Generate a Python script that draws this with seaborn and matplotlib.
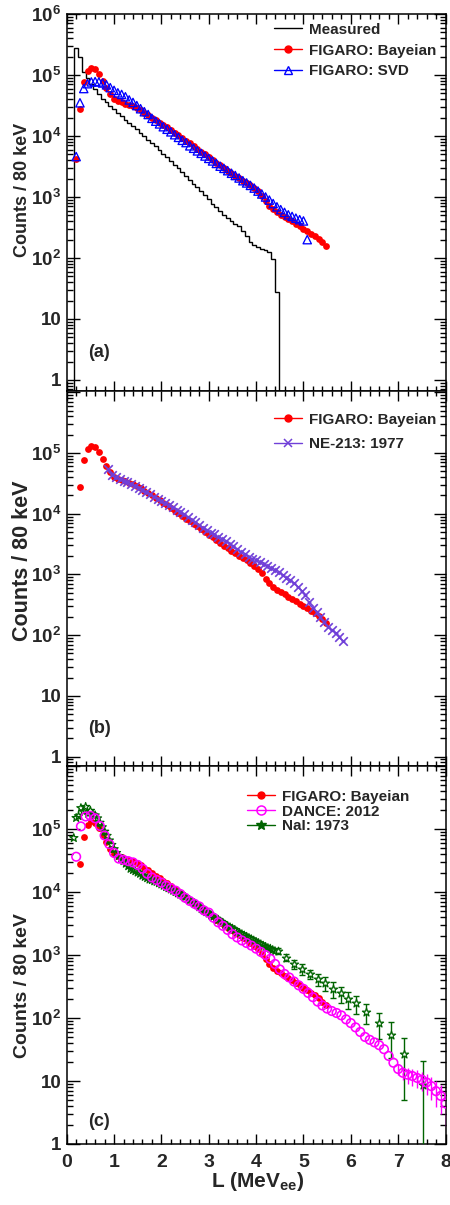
import numpy as np
import matplotlib
matplotlib.use("Agg")
import matplotlib.pyplot as plt
from matplotlib.lines import Line2D
from matplotlib.ticker import (FixedLocator, MultipleLocator, LogLocator,
                               FuncFormatter, NullFormatter)
import seaborn as sns

# ---------------------------------------------------------------- data
BIN_W = 0.08  # MeVee, 80 keV bins

# measured light-output spectrum, bins 0.16 ... 4.48 MeVee
meas_edge0 = 0.16
meas_counts = [282000, 195000, 112000, 89000, 72000, 59000, 49000, 41000, 35500, 31000,
               27500, 24000, 21400, 18600, 16600, 14500, 12900, 11200, 10000, 8700,
               7800, 6800, 5900, 5100, 4500, 3900, 3400, 2950, 2600, 2240,
               1900, 1660, 1450, 1260, 1070, 930, 780, 680, 590, 500,
               450, 400, 360, 330, 280, 230, 186, 166, 151, 141,
               135, 126, 95, 28]

# FIGARO unfolded, Bayesian (bin centres from 0.20 MeVee)
bay_start = 0.20
bay_counts = [4200, 27500, 76000, 117000, 132000, 126000, 105000, 81000, 62000, 48000,
              40000, 37000, 35500, 34000, 32500, 31000, 29000, 26500, 24000, 22000,
              20000, 18200, 16600, 15100, 13800, 12600, 11200, 10200, 9300, 8300,
              7600, 6800, 6200, 5500, 5000, 4500, 4100, 3650, 3300, 2950,
              2700, 2450, 2250, 2050, 1850, 1700, 1550, 1400, 1250, 1050,
              850, 720, 630, 560, 510, 470, 430, 400, 365, 330,
              300, 275, 250, 230, 205, 182, 160]

# FIGARO unfolded, SVD (bin centres from 0.20 MeVee)
svd_start = 0.20
svd_counts = [4600, 35000, 60000, 72000, 77000, 78000, 77000, 74000, 69000, 62000,
              56000, 51000, 48000, 44000, 39000, 35500, 31500, 28000, 25000, 22500,
              19500, 17500, 15800, 14200, 12900, 11700, 10500, 9500, 8500, 7800,
              6900, 6300, 5700, 5200, 4700, 4300, 3900, 3550, 3200, 2950,
              2700, 2450, 2250, 2050, 1850, 1700, 1550, 1400, 1250, 1120,
              1000, 890, 780, 690, 620, 560, 510, 480, 450, 425,
              405, 200]

# NE-213 (1977), bin centres from 0.88 MeVee
ne_start = 0.88
ne_counts = [53700, 43600, 39800, 37200, 34700, 33100, 30900, 28800, 26300, 24500,
             22900, 20900, 19100, 17400, 16200, 15100, 13800, 12900, 11700, 10700,
             9800, 8700, 7900, 7200, 6500, 5900, 5400, 4900, 4600, 4200,
             3900, 3550, 3200, 2950, 2630, 2340, 2140, 1950, 1820, 1700,
             1580, 1480, 1380, 1290, 1200, 1100, 980, 890, 810, 720,
             630, 540, 450, 355, 280, 240, 200, 166, 138, 120,
             107, 93, 81]

# DANCE (2012), 0.1 MeVee steps from 0.2 MeVee
dance_start, dance_step = 0.2, 0.1
dance_counts = [36300, 110000, 158000, 162000, 148000, 112000, 79000, 57500, 41700, 33900,
                32400, 30900, 29500, 26900, 23400, 19500, 17000, 15500, 14100, 12600,
                11500, 10500, 9300, 8100, 7200, 6500, 5900, 5100, 4700, 3900,
                3300, 2900, 2500, 2140, 1900, 1700, 1550, 1410, 1260, 1120,
                1000, 870, 720, 590, 500, 440, 380, 330, 290, 250,
                214, 182, 158, 141, 129, 120, 110, 95, 83, 71,
                60, 50, 45, 41, 37, 32, 25, 19.5, 15.5, 13.5,
                12.6, 12.0, 11.2, 10.5, 9.5, 8.3, 6.9, 5.8, 4.4]
# DANCE uncertainties of the last points (7.0 ... 8.0 MeVee)
dance_tail_err = [3.0, 3.0, 3.6, 3.6, 3.5, 3.5, 3.4, 3.3, 3.0, 2.8, 2.5]

# NaI (1973): fine-binned part 0.15 ... 4.40 MeVee in 0.05 steps
nai_start, nai_step = 0.15, 0.05
nai_counts = [72000, 150000, 160000, 215000, 190000, 225000, 175000, 195000, 170000, 165000,
              148000, 126000, 107000, 91000, 78000, 66000, 56000, 48000, 41700, 37200,
              33900, 30900, 28200, 25700, 23400, 22400, 21400, 20400, 19500, 18200,
              17400, 16600, 15800, 15500, 14800, 14500, 13800, 13200, 12600, 12000,
              11500, 11000, 10500, 10000, 9550, 9120, 8710, 8320, 7760, 7410,
              6920, 6610, 6170, 5750, 5370, 5130, 4790, 4570, 4270, 4070,
              3800, 3630, 3390, 3240, 3020, 2880, 2750, 2630, 2510, 2340,
              2240, 2140, 2040, 1950, 1860, 1780, 1700, 1620, 1550, 1480,
              1410, 1350, 1290, 1260, 1200, 1150]
# NaI (1973): high-energy tail with uncertainties
nai_tail_L = [4.47, 4.64, 4.80, 4.97, 5.14, 5.30, 5.46, 5.62, 5.79, 5.95,
              6.12, 6.33, 6.60, 6.84, 7.12, 7.53]
nai_tail_counts = [1175, 910, 710, 600, 500, 410, 355, 290, 245, 200,
                   170, 123, 83, 54, 27, 8.5]
nai_tail_err = [120, 110, 110, 110, 85, 85, 90, 80, 70, 60,
                53, 42, 36, 31, 22, 12.5]

x_ticks = [0, 1, 2, 3, 4, 5, 6, 7, 8]

# ---------------------------------------------------------------- style
sns.set_style("ticks")
plt.rcParams["font.family"] = ["Liberation Sans", "DejaVu Sans"]
plt.rcParams["font.weight"] = "bold"
plt.rcParams["mathtext.fontset"] = "custom"
plt.rcParams["mathtext.rm"] = "Liberation Sans:bold"
plt.rcParams["mathtext.bf"] = "Liberation Sans:bold"
plt.rcParams["mathtext.it"] = "Liberation Sans:bold"

RED, BLUE, VIOLET, MAGENTA, GREEN = "#ff0000", "#0000ff", "#7040d8", "#ff00ff", "#006400"


def centres(start, step, n):
    return np.round(start + step * np.arange(n), 3)


bay_L = centres(bay_start, BIN_W, len(bay_counts))
svd_L = centres(svd_start, BIN_W, len(svd_counts))
ne_L = centres(ne_start, BIN_W, len(ne_counts))
dance_L = centres(dance_start, dance_step, len(dance_counts))
nai_L = centres(nai_start, nai_step, len(nai_counts))
meas_edges = np.round(meas_edge0 + BIN_W * np.arange(len(meas_counts) + 1), 3)
n_dt = len(dance_tail_err)

# ---------------------------------------------------------------- figure
W, H = 450.0, 1205.0
fig = plt.figure(figsize=(W / 100, H / 100), dpi=100)
X0, X1 = 66.7, 445.5


def frame(top, bottom):
    return [X0 / W, 1 - bottom / H, (X1 - X0) / W, (bottom - top) / H]


ax_a = fig.add_axes(frame(14, 391))
ax_b = fig.add_axes(frame(391, 766))
ax_c = fig.add_axes(frame(766, 1144))


def decade_label(v, max_exp):
    e = int(round(np.log10(v)))
    if e > max_exp:
        return ""
    if e == 0:
        return "1"
    if e == 1:
        return "10"
    return r"$\mathbf{10^{%d}}$" % e


def style_axis(ax, ylim, max_exp, show_x):
    ax.set_yscale("log", nonpositive="clip")
    ax.set_xlim(0, 8)
    ax.set_ylim(*ylim)
    ax.xaxis.set_major_locator(FixedLocator(x_ticks))
    ax.xaxis.set_minor_locator(MultipleLocator(0.2))
    ax.yaxis.set_major_locator(FixedLocator([10.0 ** e for e in range(0, 7)]))
    ax.yaxis.set_minor_locator(LogLocator(base=10, subs=np.arange(2, 10), numticks=30))
    ax.yaxis.set_major_formatter(FuncFormatter(lambda v, p: decade_label(v, max_exp)))
    ax.yaxis.set_minor_formatter(NullFormatter())
    ax.tick_params(which="both", direction="in", top=True, right=True,
                   width=1.0, color="black")
    ax.tick_params(axis="y", which="major", length=9, labelsize=13.5, pad=4)
    ax.tick_params(axis="y", which="minor", length=4.5)
    ax.tick_params(axis="x", which="major", length=7, labelsize=14, pad=7)
    ax.tick_params(axis="x", which="minor", length=3.5)
    if not show_x:
        ax.tick_params(axis="x", labelbottom=False)
    else:
        ax.set_xticklabels([str(t) for t in x_ticks])
    for s in ax.spines.values():
        s.set_linewidth(1.1)
        s.set_color("black")
    ax.set_xlabel("")


def ylabel(ax, size, yfrac):
    ax.set_ylabel("Counts / 80 keV", fontsize=size, fontweight="bold", va="center")
    ax.yaxis.set_label_coords(-0.118, yfrac)


def panel_tag(ax, text, yfrac):
    ax.text(0.056, yfrac, text, transform=ax.transAxes, fontsize=13,
            fontweight="bold", ha="left", va="center")


def legend(ax, handles, labels, anchor, spacing):
    ax.legend(handles, labels, loc="upper left", bbox_to_anchor=anchor,
              frameon=False, handlelength=1.85, handletextpad=0.45,
              labelspacing=spacing, borderpad=0, borderaxespad=0,
              prop={"weight": "bold", "size": 11})


h_meas = Line2D([], [], color="black", lw=1.0)
h_bay = Line2D([], [], color=RED, lw=1.0, marker="o", ms=5,
               mfc=RED, mec=RED)
h_svd = Line2D([], [], color=BLUE, lw=1.0, marker="^", ms=6,
               mfc="none", mec=BLUE, mew=1.0)
h_ne = Line2D([], [], color=VIOLET, lw=1.0, marker="x", ms=5.5, mew=1.1)
h_dance = Line2D([], [], color=MAGENTA, lw=1.0, marker="o", ms=6.5,
                 mfc="none", mec=MAGENTA, mew=1.1)
h_nai = Line2D([], [], color=GREEN, lw=1.0, marker="*", ms=7,
               mfc=GREEN, mec=GREEN)

# ---------------------------------------------------------------- (a)
ax_a.stairs(meas_counts, meas_edges, color="black", lw=1.0, baseline=1e-3, zorder=2)
sns.scatterplot(x=bay_L, y=bay_counts, ax=ax_a, color=RED, marker="o", s=24,
                linewidth=0, legend=False, zorder=3)
sns.scatterplot(x=svd_L, y=svd_counts, ax=ax_a, facecolor="none", edgecolor=BLUE,
                marker="^", s=36, linewidth=0.95, legend=False, zorder=4)
style_axis(ax_a, (0.66, 1e6), 6, False)
ylabel(ax_a, 13, 0.533)
panel_tag(ax_a, "(a)", 0.103)
legend(ax_a, [h_meas, h_bay, h_svd],
       ["Measured", "FIGARO: Bayeian", "FIGARO: SVD"], (0.547, 0.977), 0.45)

# ---------------------------------------------------------------- (b)
sns.scatterplot(x=bay_L[1:], y=bay_counts[1:], ax=ax_b, color=RED, marker="o",
                s=24, linewidth=0, legend=False, zorder=3)
ax_b.errorbar(ne_L, ne_counts, xerr=BIN_W / 2, fmt="none", ecolor=VIOLET,
              elinewidth=0.8, alpha=0.8, zorder=4)
sns.scatterplot(x=ne_L, y=ne_counts, ax=ax_b, color=VIOLET, marker="x", s=38,
                linewidth=1.2, legend=False, zorder=4)
style_axis(ax_b, (0.70, 1.05e6), 5, False)
ylabel(ax_b, 15.5, 0.547)
panel_tag(ax_b, "(b)", 0.101)
legend(ax_b, [h_bay, h_ne], ["FIGARO: Bayeian", "NE-213: 1977"], (0.547, 0.942), 0.7)

# ---------------------------------------------------------------- (c)
sns.scatterplot(x=bay_L[1:], y=bay_counts[1:], ax=ax_c, color=RED, marker="o",
                s=24, linewidth=0, legend=False, zorder=3)
sns.scatterplot(x=nai_L, y=nai_counts, ax=ax_c, facecolor="none", edgecolor=GREEN,
                marker="*", s=38, linewidth=0.9, legend=False, zorder=4)
ax_c.errorbar(nai_tail_L, nai_tail_counts, yerr=nai_tail_err, fmt="none",
              ecolor=GREEN, elinewidth=1.0, capsize=2.2, capthick=1.0, zorder=4)
sns.scatterplot(x=nai_tail_L, y=nai_tail_counts, ax=ax_c, facecolor="white",
                edgecolor=GREEN, marker="*", s=38, linewidth=0.9,
                legend=False, zorder=5)
ax_c.errorbar(dance_L[-n_dt:], dance_counts[-n_dt:], yerr=dance_tail_err, fmt="none",
              ecolor=MAGENTA, elinewidth=1.0, zorder=5)
sns.scatterplot(x=dance_L, y=dance_counts, ax=ax_c, facecolor="none",
                edgecolor=MAGENTA, marker="o", s=38, linewidth=1.15,
                legend=False, zorder=5)
style_axis(ax_c, (1.0, 1e6), 5, True)
ylabel(ax_c, 14, 0.42)
panel_tag(ax_c, "(c)", 0.06)
ax_c.set_xlabel(r"L (MeV$_{\mathbf{ee}}$)", fontsize=15, fontweight="bold", va="center")
ax_c.xaxis.set_label_coords(0.505, -0.098)
legend(ax_c, [h_bay, h_dance, h_nai],
       ["FIGARO: Bayeian", "DANCE: 2012", "NaI: 1973"], (0.476, 0.937), 0.05)

fig.savefig("out.png", dpi=100)
